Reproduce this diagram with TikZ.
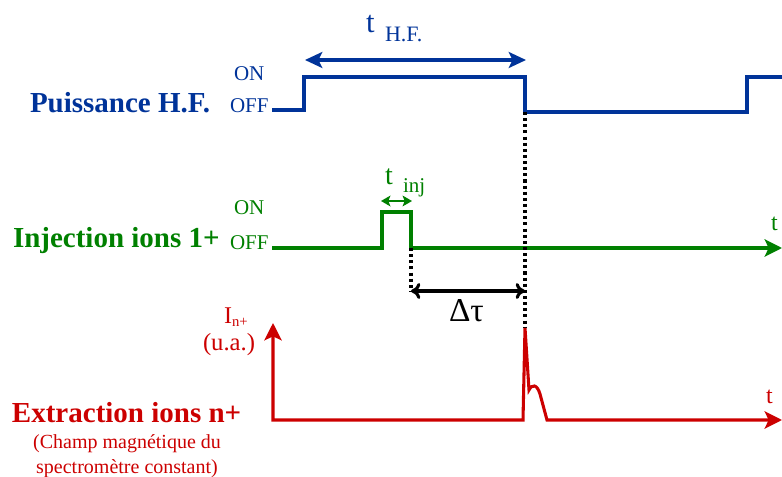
\documentclass[tikz,border=0pt]{standalone}
\usepackage{fontspec}
\setmainfont{Liberation Serif}
\usetikzlibrary{arrows.meta}
\definecolor{hfblue}{RGB}{0,51,153}
\definecolor{injgreen}{RGB}{0,128,0}
\definecolor{extred}{RGB}{204,0,0}

\begin{document}
\begin{tikzpicture}[
        x=0.75pt, y=-0.75pt,
        sig/.style={line width=2.3pt, line join=miter},
        dotline/.style={line width=2.3pt, dash pattern=on 2.3pt off 2.3pt},
        lbl/.style={anchor=base west, inner sep=0pt, outer sep=0pt},
        title/.style={lbl, font=\bfseries\fontsize{21.75}{24}\selectfont},
        state/.style={lbl, font=\fontsize{15.75}{18}\selectfont},
        note/.style={anchor=base, inner sep=0pt, font=\fontsize{15}{17}\selectfont},
        >=Stealth
    ]
    \useasboundingbox (0,0) rectangle (782,477);

    % Puissance H.F.
    \node[title, text=hfblue] (hf) at (30,113) {Puissance H.F.};
    \node[state, text=hfblue] (hfon) at (234,81) {ON};
    \node[state, text=hfblue] (hfoff) at (230,113) {OFF};
    \coordinate (hfa) at (272,110);
    \coordinate (hfup) at (304,77);
    \coordinate (hfdown) at (525,112);
    \coordinate (hfnext) at (747,77);
    \draw[sig, hfblue] (hfa) -- (304,110) -- (hfup) -- (525,77) -- (hfdown)
        -- (747,112) -- (hfnext) -- (782,77);
    \coordinate (thfl) at (305,60);
    \coordinate (thfr) at (526,60);
    \draw[sig, hfblue, <->, >={Stealth[length=13pt,width=12pt,inset=3pt]}] (thfl) -- (thfr);
    \node[lbl, text=hfblue, font=\fontsize{23}{26}\selectfont] (thf) at (366,33) {t};
    \node[lbl, text=hfblue, font=\fontsize{16.5}{18}\selectfont] (thfsub) at (385,42) {H.F.};

    % Injection ions 1+
    \node[title, text=injgreen] (inj) at (13,248) {Injection ions 1+};
    \node[state, text=injgreen] (injon) at (234,215) {ON};
    \node[state, text=injgreen] (injoff) at (230,250) {OFF};
    \coordinate (inja) at (272,248);
    \coordinate (injup) at (382,212);
    \coordinate (injdown) at (411,248);
    \coordinate (injend) at (782,248);
    \draw[sig, injgreen, ->, >={Stealth[length=13pt,width=13pt,inset=3pt]}] (inja) -- (382,248) -- (injup)
        -- (411,212) -- (injdown) -- (injend);
    \coordinate (tinjl) at (381,201);
    \coordinate (tinjr) at (412,201);
    \draw[line width=2pt, injgreen, <->, >={Stealth[length=7pt,width=8pt,inset=1.5pt]}] (tinjl) -- (tinjr);
    \node[lbl, text=injgreen, font=\fontsize{21}{24}\selectfont] (tinj) at (385,185) {t};
    \node[lbl, text=injgreen, font=\fontsize{15.75}{18}\selectfont] (tinjsub) at (403,193) {inj};
    \node[lbl, text=injgreen, font=\fontsize{18}{20}\selectfont] (tinjt) at (771,231) {t};

    % delai
    \coordinate (dta) at (411,291);
    \coordinate (dtb) at (525,291);
    \coordinate (peak) at (525,328);
    \draw[dotline] (injdown) -- (dta);
    \draw[dotline] (hfdown) -- (peak);
    \draw[line width=2.3pt, <->, >={To[length=7pt,width=12pt]}] (dta) -- (dtb);
    \node[lbl, font=\fontsize{25}{28}\selectfont] (dtau) at (449,322) {Δτ};

    % Extraction ions n+
    \node[title, text=extred] (ext) at (12,422) {Extraction ions n+};
    \node[note, text=extred] (champ) at (127,448) {(Champ magnétique du};
    \node[note, text=extred] (spectro) at (127,473) {spectromètre constant)};
    \node[lbl, text=extred, font=\fontsize{18}{20}\selectfont] (iion) at (224,324) {I};
    \node[lbl, text=extred, font=\fontsize{11}{13}\selectfont] (iionsub) at (232,327) {n+};
    \node[lbl, text=extred, font=\fontsize{18.5}{20}\selectfont] (ua) at (203,350) {(u.a.)};
    \coordinate (orig) at (273,420);
    \coordinate (ytop) at (273,323);
    \coordinate (xend) at (782,420);
    \draw[sig, extred, <->, >={Stealth[length=13pt,width=13pt,inset=3pt]}] (ytop) -- (orig) -- (523,420)
        -- (peak) -- (529,390) .. controls (532,384) and (537,384) .. (540,394)
        -- (547,420) -- (xend);
    \node[lbl, text=extred, font=\fontsize{18}{20}\selectfont] (extt) at (766,403) {t};
\end{tikzpicture}
\end{document}
